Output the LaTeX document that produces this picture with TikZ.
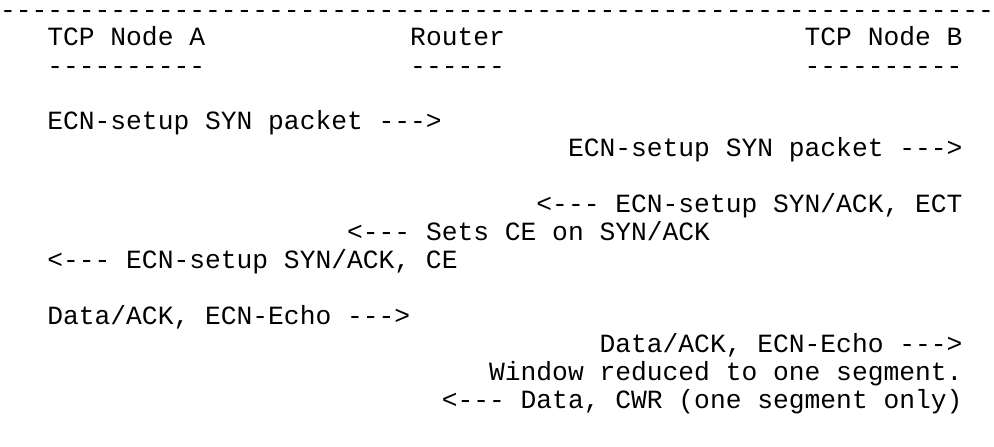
\documentclass[tikz,border=0pt]{standalone}
\usepackage{fontspec}
\setmonofont{Liberation Mono}
\begin{document}
\begin{tikzpicture}[x=6pt,y=10.62pt,
  txt/.style={anchor=base west,inner sep=0pt,outer sep=0pt,
    font=\ttfamily\fontsize{10}{10.62}\selectfont,text=black,
    text height=1.3ex,text depth=0.3ex}]
\useasboundingbox (0,0) rectangle (63,-16);
% baseline of line i at -(0.65 + i)
\node[txt] (rule) at (0,-0.65) {---------------------------------------------------------------};
\node[txt] (nodeA) at (3,-1.62) {TCP Node A};
\node[txt] (router) at (26,-1.62) {Router};
\node[txt] (nodeB) at (51,-1.62) {TCP Node B};
\node[txt] (ulA) at (3,-2.65) {----------};
\node[txt] (ulR) at (26,-2.65) {------};
\node[txt] (ulB) at (51,-2.65) {----------};
\node[txt] (syn1) at (3,-4.62) {ECN-setup SYN packet --->};
\node[txt] (syn2) at (36,-5.62) {ECN-setup SYN packet --->};
\node[txt] (synack1) at (34,-7.62) {<--- ECN-setup SYN/ACK, ECT};
\node[txt] (setce) at (22,-8.62) {<--- Sets CE on SYN/ACK};
\node[txt] (synack2) at (3,-9.62) {<--- ECN-setup SYN/ACK, CE};
\node[txt] (data1) at (3,-11.62) {Data/ACK, ECN-Echo --->};
\node[txt] (data2) at (38,-12.62) {Data/ACK, ECN-Echo --->};
\node[txt] (window) at (31,-13.62) {Window reduced to one segment.};
\node[txt] (cwr) at (28,-14.62) {<--- Data, CWR (one segment only)};
\end{tikzpicture}
\end{document}
